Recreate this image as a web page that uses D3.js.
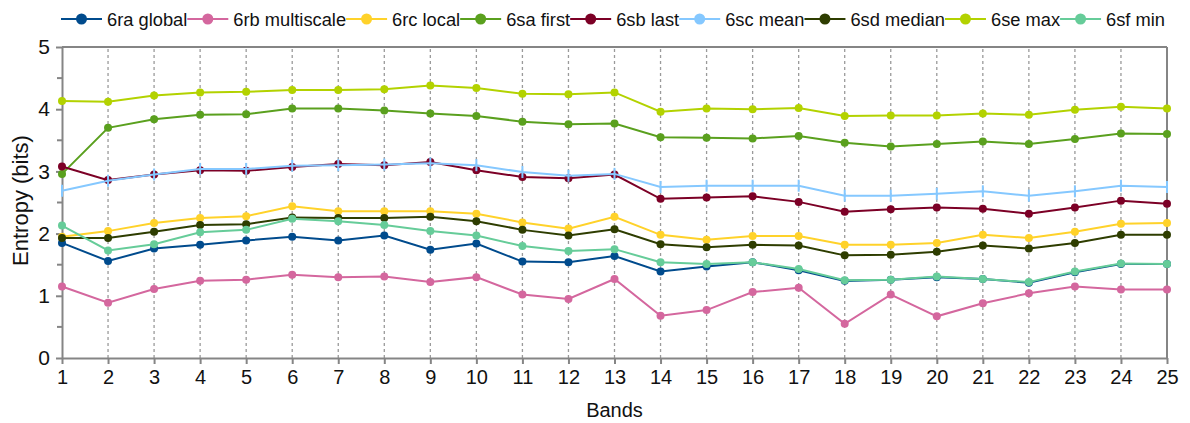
<!DOCTYPE html>
<html>
<head>
<meta charset="utf-8">
<script src="https://cdn.jsdelivr.net/npm/d3@7"></script>
<style>
  html, body { margin: 0; padding: 0; background: #fff; }
  svg { display: block; font-family: "Liberation Sans", Arial, sans-serif; }
</style>
</head>
<body>
<svg id="chart" width="1190" height="423"></svg>
<script>
// Bands 1..25 on the x axis
const bands = d3.range(1, 26);

// Entropy (bits) per band for each method
const seriesNames = ["6ra global", "6rb multiscale", "6rc local", "6sa first", "6sb last",
                     "6sc mean", "6sd median", "6se max", "6sf min"];
const seriesColors = ["#004b8d", "#d4679e", "#ffd22a", "#5aa01e", "#7c0026",
                      "#85c8ff", "#2e3d00", "#b3d200", "#66cc99"];

const ra_global = [1.85, 1.56, 1.76, 1.82, 1.89, 1.95, 1.89, 1.97, 1.74, 1.84, 1.55, 1.54, 1.64,
                   1.39, 1.47, 1.54, 1.41, 1.24, 1.26, 1.30, 1.27, 1.21, 1.38, 1.51, 1.51];
const rb_multiscale = [1.15, 0.89, 1.11, 1.24, 1.26, 1.34, 1.30, 1.31, 1.22, 1.30, 1.02, 0.95, 1.27,
                       0.68, 0.77, 1.06, 1.13, 0.55, 1.02, 0.67, 0.88, 1.04, 1.15, 1.10, 1.10];
const rc_local = [1.95, 2.04, 2.17, 2.25, 2.28, 2.44, 2.36, 2.36, 2.36, 2.32, 2.18, 2.08, 2.27,
                  1.98, 1.90, 1.96, 1.96, 1.82, 1.82, 1.85, 1.98, 1.93, 2.03, 2.16, 2.17];
const sa_first = [2.96, 3.70, 3.84, 3.91, 3.92, 4.01, 4.01, 3.98, 3.93, 3.89, 3.80, 3.76, 3.77,
                  3.55, 3.54, 3.53, 3.57, 3.46, 3.40, 3.44, 3.48, 3.44, 3.52, 3.61, 3.60];
const sb_last = [3.08, 2.86, 2.95, 3.02, 3.01, 3.07, 3.12, 3.10, 3.15, 3.02, 2.91, 2.89, 2.95,
                 2.56, 2.58, 2.60, 2.51, 2.35, 2.39, 2.42, 2.40, 2.32, 2.42, 2.53, 2.48];
const sc_mean = [2.69, 2.85, 2.95, 3.04, 3.04, 3.09, 3.10, 3.11, 3.13, 3.10, 2.99, 2.93, 2.96,
                 2.75, 2.77, 2.77, 2.77, 2.61, 2.61, 2.64, 2.68, 2.61, 2.68, 2.77, 2.75];
const sd_median = [1.93, 1.93, 2.03, 2.14, 2.15, 2.26, 2.25, 2.25, 2.27, 2.20, 2.06, 1.97, 2.07,
                   1.83, 1.78, 1.82, 1.81, 1.65, 1.66, 1.71, 1.81, 1.76, 1.85, 1.98, 1.98];
const se_max = [4.13, 4.12, 4.22, 4.27, 4.28, 4.31, 4.31, 4.32, 4.38, 4.34, 4.25, 4.24, 4.27,
                3.96, 4.01, 4.00, 4.02, 3.89, 3.90, 3.90, 3.93, 3.91, 3.99, 4.04, 4.01];
const sf_min = [2.13, 1.73, 1.83, 2.02, 2.06, 2.24, 2.20, 2.14, 2.04, 1.97, 1.80, 1.72, 1.75,
                1.54, 1.51, 1.54, 1.43, 1.25, 1.26, 1.31, 1.27, 1.22, 1.39, 1.52, 1.51];

const seriesValues = [ra_global, rb_multiscale, rc_local, sa_first, sb_last,
                      sc_mean, sd_median, se_max, sf_min];

// Axis ticks
const yTicks = [0, 1, 2, 3, 4, 5];
const yMinorTicks = [0.5, 1.5, 2.5, 3.5, 4.5];

const series = seriesNames.map((name, i) => ({
  name, color: seriesColors[i],
  marker: name === "6sc mean" ? "tick" : "dot",
  values: seriesValues[i].map((v, j) => ({ band: bands[j], value: v }))
}));

const svg = d3.select("#chart");
const margin = { left: 62, right: 23, top: 47, bottom: 65 };
const W = 1190, H = 423;
const x = d3.scaleLinear().domain([1, 25]).range([margin.left, W - margin.right]);
const y = d3.scaleLinear().domain([0, 5]).range([H - margin.bottom, margin.top]);
const axisColor = "#858585";

// Dashed vertical grid at each band
svg.append("g")
  .selectAll("line")
  .data(bands.slice(1, -1))
  .join("line")
  .attr("x1", d => x(d)).attr("x2", d => x(d))
  .attr("y1", y(0)).attr("y2", y(5))
  .attr("stroke", "#9a9a9a")
  .attr("stroke-width", 1.3)
  .attr("stroke-dasharray", "3,3");

// Frame: top and right borders
svg.append("line")
  .attr("x1", x(1)).attr("x2", x(25)).attr("y1", y(5)).attr("y2", y(5))
  .attr("stroke", axisColor).attr("stroke-width", 2);
svg.append("line")
  .attr("x1", x(25)).attr("x2", x(25)).attr("y1", y(5)).attr("y2", y(0))
  .attr("stroke", axisColor).attr("stroke-width", 2);

// X axis
const xAxis = svg.append("g")
  .attr("transform", `translate(0,${y(0)})`)
  .call(d3.axisBottom(x).tickValues(bands).tickFormat(d3.format("d")).tickSizeInner(6).tickSizeOuter(0).tickPadding(6));
xAxis.select(".domain").attr("stroke", axisColor).attr("stroke-width", 2);
xAxis.selectAll(".tick line").attr("stroke", axisColor).attr("stroke-width", 2);
xAxis.selectAll(".tick text")
  .attr("fill", "#111")
  .style("font-size", "20px")
  .style("font-family", "'Liberation Sans', Arial, sans-serif");

// Y axis with minor ticks at half units
const yAxis = svg.append("g")
  .attr("transform", `translate(${x(1)},0)`)
  .call(d3.axisLeft(y).tickValues(yTicks).tickFormat(d3.format("d")).tickSizeInner(6).tickSizeOuter(0).tickPadding(6));
yAxis.select(".domain").attr("stroke", axisColor).attr("stroke-width", 2);
yAxis.selectAll(".tick line").attr("stroke", axisColor).attr("stroke-width", 2);
yAxis.selectAll(".tick text")
  .attr("fill", "#111")
  .style("font-size", "21px")
  .style("font-family", "'Liberation Sans', Arial, sans-serif");
svg.append("g")
  .selectAll("line")
  .data(yMinorTicks)
  .join("line")
  .attr("x1", x(1) - 5).attr("x2", x(1))
  .attr("y1", d => y(d)).attr("y2", d => y(d))
  .attr("stroke", axisColor).attr("stroke-width", 2);

// Axis titles
svg.append("text")
  .attr("x", (x(1) + x(25)) / 2).attr("y", 417)
  .attr("text-anchor", "middle")
  .attr("fill", "#111")
  .style("font-size", "20px")
  .text("Bands");
svg.append("text")
  .attr("transform", `translate(28,${(y(0) + y(5)) / 2 - 2}) rotate(-90)`)
  .attr("text-anchor", "middle")
  .attr("fill", "#111")
  .style("font-size", "22px")
  .text("Entropy (bits)");

// Series lines and markers
const line = d3.line().x(d => x(d.band)).y(d => y(d.value));
const plot = svg.append("g");
series.forEach(s => {
  const g = plot.append("g");
  g.append("path")
    .datum(s.values)
    .attr("d", line)
    .attr("fill", "none")
    .attr("stroke", s.color)
    .attr("stroke-width", 2);
  if (s.marker === "dot") {
    g.selectAll("circle")
      .data(s.values)
      .join("circle")
      .attr("cx", d => x(d.band)).attr("cy", d => y(d.value))
      .attr("r", 4)
      .attr("fill", s.color);
  } else {
    g.selectAll("line")
      .data(s.values)
      .join("line")
      .attr("x1", d => x(d.band)).attr("x2", d => x(d.band))
      .attr("y1", d => y(d.value) - 6).attr("y2", d => y(d.value) + 6)
      .attr("stroke", s.color)
      .attr("stroke-width", 2);
  }
});

// Legend across the top
const legend = svg.append("g").attr("transform", "translate(0,19)");
let lx = 61;
series.forEach(s => {
  const item = legend.append("g");
  item.append("line")
    .attr("x1", lx).attr("x2", lx + 41).attr("y1", 0).attr("y2", 0)
    .attr("stroke", s.color).attr("stroke-width", 2);
  item.append("circle")
    .attr("cx", lx + 20.5).attr("cy", 0).attr("r", 5.5)
    .attr("fill", s.color);
  const t = item.append("text")
    .attr("x", lx + 46).attr("y", 6.5)
    .attr("fill", "#111")
    .style("font-size", "18.3px")
    .text(s.name);
  lx = lx + 46 + t.node().getComputedTextLength();
});
</script>
</body>
</html>
